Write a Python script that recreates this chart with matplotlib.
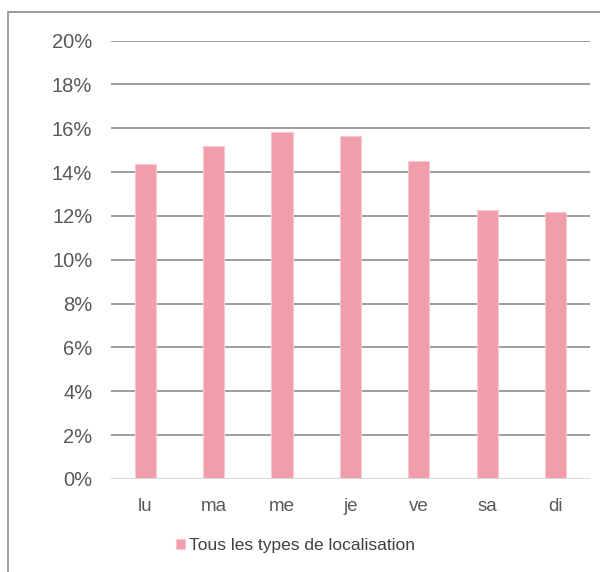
import matplotlib
matplotlib.use("Agg")
from matplotlib import pyplot as plt
from matplotlib.patches import Rectangle
from matplotlib.ticker import FuncFormatter

days = ["lu", "ma", "me", "je", "ve", "sa", "di"]
shares = [14.38, 15.19, 15.83, 15.65, 14.53, 12.29, 12.20]
series_name = "Tous les types de localisation"
y_ticks = [0, 2, 4, 6, 8, 10, 12, 14, 16, 18, 20]

plt.rcParams["font.family"] = ["Liberation Sans", "DejaVu Sans"]

fig = plt.figure(figsize=(6, 5.72), dpi=100)
ax = fig.add_axes([0.185, 0.1626, 0.798, 0.7664])

x = list(range(len(days)))
ax.bar(x, shares, width=0.31, color="#F29DAA", edgecolor="#F8C8D0",
       linewidth=0.8, zorder=3, label=series_name)

ax.set_ylim(0, 20)
ax.set_xlim(-0.5, len(days) - 0.5)
ax.set_yticks(y_ticks)
ax.yaxis.set_major_formatter(FuncFormatter(lambda v, p: "%d%%" % v))
ax.set_xticks(x)
ax.set_xticklabels(days)
ax.grid(axis="y", color="#8C8C8C", linewidth=1.2, zorder=0)
ax.axhline(0, color="#D9D9D9", linewidth=1.5, zorder=4)

for s in ax.spines.values():
    s.set_visible(False)
ax.tick_params(axis="both", length=0, colors="#595959")
ax.tick_params(axis="y", pad=13.5, labelsize=14.5)
ax.tick_params(axis="x", pad=13.5, labelsize=13.5)

leg = ax.legend(loc="upper center", bbox_to_anchor=(0.385, -0.1), frameon=False,
                fontsize=12.5, handlelength=0.5, handleheight=0.5,
                handletextpad=0.25)
for t in leg.get_texts():
    t.set_color("#404040")

# outer chart frame (cut off on the right and bottom)
fig.patches.append(Rectangle((8 / 600, -0.05), 1.1, 1 - 12 / 572 + 0.05,
                             transform=fig.transFigure, fill=False,
                             edgecolor="#8C8C8C", linewidth=1.2))

fig.savefig("out.png", dpi=100)
